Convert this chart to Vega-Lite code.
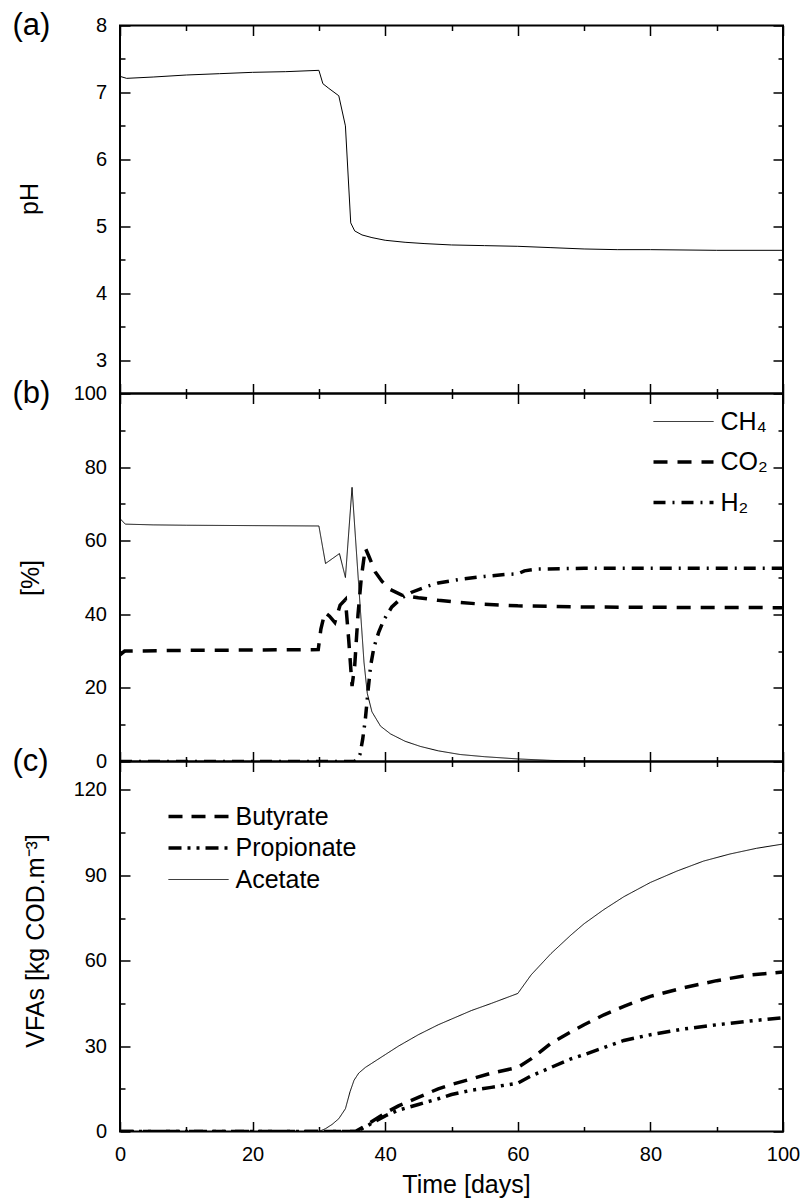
{
  "$schema": "https://vega.github.io/schema/vega-lite/v6.json",
  "autosize": {"type": "pad"},
  "padding": {"left": 11, "top": 8.5, "right": 0, "bottom": 0},
  "spacing": 0,
  "bounds": "flush",
  "resolve": {"scale": {"strokeDash": "independent"}, "legend": {"strokeDash": "independent"}},
  "config": {
    "font": "Liberation Sans",
    "view": {"stroke": "black", "strokeWidth": 2},
    "axis": {
      "domain": false, "grid": false, "tickColor": "black", "tickWidth": 1.5,
      "labelColor": "black", "labelFontSize": 20, "labelFont": "Liberation Sans",
      "titleFont": "Liberation Sans", "titleFontSize": 25, "titleFontWeight": "normal",
      "titleColor": "black", "labelFlush": false, "labelOverlap": false
    },
    "legend": {"labelFont": "Liberation Sans", "labelFontSize": 25, "labelColor": "black"},
    "title": {
      "anchor": "start", "frame": "group", "fontSize": 31, "fontWeight": "normal",
      "font": "Liberation Sans", "baseline": "middle", "dx": -107.5, "color": "black", "orient": "top"
    }
  },
  "datasets": {
    "ph": [
      {"t":0,"v":7.24},{"t":1,"v":7.21},{"t":5,"v":7.23},{"t":10,"v":7.26},{"t":15,"v":7.28},
      {"t":20,"v":7.3},{"t":25,"v":7.31},{"t":30,"v":7.33},{"t":30.6,"v":7.13},{"t":31.5,"v":7.06},
      {"t":33,"v":6.95},{"t":34,"v":6.5},{"t":34.8,"v":5.05},{"t":35.4,"v":4.93},{"t":36.5,"v":4.87},
      {"t":38,"v":4.83},{"t":40,"v":4.79},{"t":43,"v":4.76},{"t":46,"v":4.74},{"t":50,"v":4.72},
      {"t":55,"v":4.71},{"t":60,"v":4.7},{"t":65,"v":4.68},{"t":70,"v":4.66},{"t":75,"v":4.65},
      {"t":80,"v":4.65},{"t":90,"v":4.64},{"t":100,"v":4.64}
    ],
    "gas": [
      {"s":"CH₄","t":0,"v":66},{"s":"CH₄","t":0.8,"v":64.5},{"s":"CH₄","t":5,"v":64.3},{"s":"CH₄","t":10,"v":64.2},
      {"s":"CH₄","t":20,"v":64.1},{"s":"CH₄","t":30,"v":64},{"s":"CH₄","t":31,"v":53.8},{"s":"CH₄","t":33.1,"v":56.5},
      {"s":"CH₄","t":34,"v":50},{"s":"CH₄","t":35,"v":74.5},{"s":"CH₄","t":36,"v":48},{"s":"CH₄","t":36.8,"v":27},
      {"s":"CH₄","t":37.3,"v":18.5},{"s":"CH₄","t":38,"v":13.5},{"s":"CH₄","t":39.3,"v":9.6},{"s":"CH₄","t":40.8,"v":7.5},
      {"s":"CH₄","t":43,"v":5.5},{"s":"CH₄","t":45.3,"v":4.1},{"s":"CH₄","t":48,"v":2.9},{"s":"CH₄","t":51.3,"v":1.9},
      {"s":"CH₄","t":55,"v":1.3},{"s":"CH₄","t":60,"v":0.7},{"s":"CH₄","t":65,"v":0.3},{"s":"CH₄","t":70,"v":0.1},
      {"s":"CH₄","t":80,"v":0},{"s":"CH₄","t":100,"v":0},
      {"s":"CO₂","t":0,"v":29},{"s":"CO₂","t":0.7,"v":30},{"s":"CO₂","t":10,"v":30.2},{"s":"CO₂","t":20,"v":30.3},
      {"s":"CO₂","t":29.9,"v":30.4},{"s":"CO₂","t":30.3,"v":36},{"s":"CO₂","t":30.9,"v":40.5},{"s":"CO₂","t":31.6,"v":39.5},
      {"s":"CO₂","t":32.4,"v":37.8},{"s":"CO₂","t":33.2,"v":42.5},{"s":"CO₂","t":34,"v":44},{"s":"CO₂","t":34.5,"v":33},
      {"s":"CO₂","t":35,"v":20.5},{"s":"CO₂","t":35.4,"v":26},{"s":"CO₂","t":35.9,"v":40},{"s":"CO₂","t":36.4,"v":50},
      {"s":"CO₂","t":37,"v":58},{"s":"CO₂","t":37.6,"v":55.5},{"s":"CO₂","t":38.5,"v":51.5},{"s":"CO₂","t":39.5,"v":49},
      {"s":"CO₂","t":40.8,"v":46.7},{"s":"CO₂","t":42.5,"v":45.2},{"s":"CO₂","t":45,"v":44.5},{"s":"CO₂","t":48,"v":43.8},
      {"s":"CO₂","t":51.3,"v":43.2},{"s":"CO₂","t":55,"v":42.7},{"s":"CO₂","t":60,"v":42.3},{"s":"CO₂","t":70,"v":42},
      {"s":"CO₂","t":80,"v":41.9},{"s":"CO₂","t":100,"v":41.8},
      {"s":"H₂","t":0,"v":0},{"s":"H₂","t":35.3,"v":0},{"s":"H₂","t":35.8,"v":0.5},{"s":"H₂","t":36.2,"v":2},
      {"s":"H₂","t":36.6,"v":6},{"s":"H₂","t":37,"v":11.4},{"s":"H₂","t":37.4,"v":19},{"s":"H₂","t":37.8,"v":26},
      {"s":"H₂","t":38.3,"v":31},{"s":"H₂","t":39,"v":35},{"s":"H₂","t":39.8,"v":38.5},{"s":"H₂","t":41,"v":42},
      {"s":"H₂","t":42.5,"v":44.5},{"s":"H₂","t":44,"v":46},{"s":"H₂","t":46.3,"v":47.6},{"s":"H₂","t":48,"v":48.5},
      {"s":"H₂","t":51.3,"v":49.5},{"s":"H₂","t":55,"v":50.3},{"s":"H₂","t":58,"v":50.8},{"s":"H₂","t":60,"v":51},
      {"s":"H₂","t":61,"v":51.8},{"s":"H₂","t":63,"v":52.3},{"s":"H₂","t":70,"v":52.5},{"s":"H₂","t":80,"v":52.5},
      {"s":"H₂","t":100,"v":52.5}
    ],
    "vfa": [
      {"s":"Acetate","t":0,"v":0},{"s":"Acetate","t":30,"v":0},{"s":"Acetate","t":31,"v":1},{"s":"Acetate","t":32,"v":2.5},
      {"s":"Acetate","t":33,"v":4.5},{"s":"Acetate","t":34,"v":8},{"s":"Acetate","t":34.7,"v":14},{"s":"Acetate","t":35.3,"v":18},
      {"s":"Acetate","t":36,"v":20.5},{"s":"Acetate","t":37,"v":22.5},{"s":"Acetate","t":38,"v":24},{"s":"Acetate","t":40,"v":27},
      {"s":"Acetate","t":42,"v":30},{"s":"Acetate","t":45,"v":34},{"s":"Acetate","t":48,"v":37.5},{"s":"Acetate","t":50,"v":39.5},
      {"s":"Acetate","t":53,"v":42.5},{"s":"Acetate","t":56,"v":45},{"s":"Acetate","t":60,"v":48.5},{"s":"Acetate","t":62,"v":55},
      {"s":"Acetate","t":65,"v":62.5},{"s":"Acetate","t":68,"v":69},{"s":"Acetate","t":70,"v":73},{"s":"Acetate","t":73,"v":78},
      {"s":"Acetate","t":76,"v":82.5},{"s":"Acetate","t":80,"v":87.5},{"s":"Acetate","t":84,"v":91.5},{"s":"Acetate","t":88,"v":95},
      {"s":"Acetate","t":92,"v":97.5},{"s":"Acetate","t":96,"v":99.5},{"s":"Acetate","t":100,"v":101},
      {"s":"Butyrate","t":0,"v":0},{"s":"Butyrate","t":35.5,"v":0},{"s":"Butyrate","t":37,"v":2},{"s":"Butyrate","t":38,"v":3.5},
      {"s":"Butyrate","t":40,"v":6.5},{"s":"Butyrate","t":42,"v":9},{"s":"Butyrate","t":45,"v":12},{"s":"Butyrate","t":48,"v":15},
      {"s":"Butyrate","t":50,"v":16.5},{"s":"Butyrate","t":53,"v":18.5},{"s":"Butyrate","t":56,"v":20.5},{"s":"Butyrate","t":60,"v":22.5},
      {"s":"Butyrate","t":62,"v":25.5},{"s":"Butyrate","t":65,"v":31},{"s":"Butyrate","t":68,"v":35},{"s":"Butyrate","t":70,"v":37.5},
      {"s":"Butyrate","t":73,"v":41},{"s":"Butyrate","t":76,"v":44},{"s":"Butyrate","t":80,"v":47.5},{"s":"Butyrate","t":85,"v":50.5},
      {"s":"Butyrate","t":90,"v":53},{"s":"Butyrate","t":95,"v":55},{"s":"Butyrate","t":100,"v":56},
      {"s":"Propionate","t":0,"v":0},{"s":"Propionate","t":35.5,"v":0},{"s":"Propionate","t":37,"v":1.5},{"s":"Propionate","t":38,"v":3},
      {"s":"Propionate","t":40,"v":5.5},{"s":"Propionate","t":42,"v":7.5},{"s":"Propionate","t":45,"v":9.5},{"s":"Propionate","t":48,"v":11.5},
      {"s":"Propionate","t":50,"v":13},{"s":"Propionate","t":53,"v":14.5},{"s":"Propionate","t":56,"v":15.5},{"s":"Propionate","t":60,"v":17},
      {"s":"Propionate","t":62,"v":19.5},{"s":"Propionate","t":65,"v":22.5},{"s":"Propionate","t":68,"v":25.5},{"s":"Propionate","t":70,"v":27},
      {"s":"Propionate","t":73,"v":29.5},{"s":"Propionate","t":76,"v":32},{"s":"Propionate","t":80,"v":34},{"s":"Propionate","t":85,"v":36},
      {"s":"Propionate","t":90,"v":37.5},{"s":"Propionate","t":95,"v":38.8},{"s":"Propionate","t":100,"v":40}
    ]
  },
  "vconcat": [
    {
      "width": 663, "height": 368,
      "title": {"text": "(a)", "offset": -26},
      "data": {"name": "ph"},
      "resolve": {"axis": {"x": "independent", "y": "independent"}},
      "layer": [
        {
          "mark": {"type": "line", "color": "black", "strokeWidth": 1, "clip": true},
          "encoding": {
            "x": {"field": "t", "type": "quantitative", "scale": {"domain": [0, 100], "nice": false, "zero": false},
              "axis": {"orient": "bottom", "values": [0,20,40,60,80,100], "tickSize": 10, "offset": -10, "labels": false, "title": null}},
            "y": {"field": "v", "type": "quantitative", "scale": {"domain": [2.5, 8], "nice": false, "zero": false},
              "axis": {"orient": "left", "values": [3,4,5,6,7,8], "format": "d", "tickSize": 10, "offset": -10, "labelPadding": 13.5,
                "title": "pH", "titleX": -93, "titleY": 173, "titleAngle": 270, "titleAlign": "center", "titleBaseline": "alphabetic"}}
          }
        },
        {
          "mark": {"type": "line", "opacity": 0},
          "encoding": {
            "x": {"field": "t", "type": "quantitative", "scale": {"domain": [0, 100], "nice": false, "zero": false},
              "axis": {"orient": "bottom", "values": [10,30,50,70,90], "tickSize": 5, "offset": -5, "labels": false, "title": null}},
            "y": {"field": "v", "type": "quantitative", "scale": {"domain": [2.5, 8], "nice": false, "zero": false},
              "axis": {"orient": "left", "values": [3.5,4.5,5.5,6.5,7.5], "tickSize": 5, "offset": -5, "labels": false, "title": null}}
          }
        },
        {
          "mark": {"type": "line", "opacity": 0},
          "encoding": {
            "x": {"field": "t", "type": "quantitative", "scale": {"domain": [0, 100], "nice": false, "zero": false},
              "axis": {"orient": "top", "values": [0,20,40,60,80,100], "tickSize": 10, "offset": -10, "labels": false, "title": null}},
            "y": {"field": "v", "type": "quantitative", "scale": {"domain": [2.5, 8], "nice": false, "zero": false},
              "axis": {"orient": "right", "values": [3,4,5,6,7,8], "tickSize": 10, "offset": -10, "labels": false, "title": null}}
          }
        },
        {
          "mark": {"type": "line", "opacity": 0},
          "encoding": {
            "x": {"field": "t", "type": "quantitative", "scale": {"domain": [0, 100], "nice": false, "zero": false},
              "axis": {"orient": "top", "values": [10,30,50,70,90], "tickSize": 5, "offset": -5, "labels": false, "title": null}},
            "y": {"field": "v", "type": "quantitative", "scale": {"domain": [2.5, 8], "nice": false, "zero": false},
              "axis": {"orient": "right", "values": [3.5,4.5,5.5,6.5,7.5], "tickSize": 5, "offset": -5, "labels": false, "title": null}}
          }
        }
      ]
    },
    {
      "width": 663, "height": 368,
      "title": {"text": "(b)", "offset": -26},
      "data": {"name": "gas"},
      "resolve": {"axis": {"x": "independent", "y": "independent"}},
      "layer": [
        {
          "mark": {"type": "line", "color": "black", "clip": true},
          "encoding": {
            "x": {"field": "t", "type": "quantitative", "scale": {"domain": [0, 100], "nice": false, "zero": false},
              "axis": {"orient": "bottom", "values": [0,20,40,60,80,100], "tickSize": 10, "offset": -10, "labels": false, "title": null}},
            "y": {"field": "v", "type": "quantitative", "scale": {"domain": [0, 100], "nice": false, "zero": false},
              "axis": {"orient": "left", "values": [0,20,40,60,80,100], "tickSize": 10, "offset": -10, "labelPadding": 13.5,
                "title": "[%]", "titleX": -92, "titleY": 184, "titleAngle": 270, "titleAlign": "center", "titleBaseline": "alphabetic"}},
            "strokeDash": {"field": "s", "type": "nominal",
              "scale": {"domain": ["CH₄", "CO₂", "H₂"], "range": [[1, 0], [14, 10], [12, 7, 2, 7]]},
              "legend": {"orient": "none", "legendX": 551, "legendY": 15.5, "title": null, "symbolType": "M-3,0H3",
                "symbolSize": 400, "symbolStrokeColor": "black", "symbolFillColor": "transparent",
                "symbolStrokeWidth": {"expr": "(datum.index === 0 ? 1 : 3.5)"},
                "labelFontSize": 25, "labelOffset": 24.5, "rowPadding": 14.5, "padding": 0}},
            "strokeWidth": {"condition": {"test": "datum.s === 'CH₄'", "value": 1}, "value": 3.5}
          }
        },
        {
          "mark": {"type": "line", "opacity": 0},
          "encoding": {
            "x": {"field": "t", "type": "quantitative", "scale": {"domain": [0, 100], "nice": false, "zero": false},
              "axis": {"orient": "bottom", "values": [10,30,50,70,90], "tickSize": 5, "offset": -5, "labels": false, "title": null}},
            "y": {"field": "v", "type": "quantitative", "scale": {"domain": [0, 100], "nice": false, "zero": false},
              "axis": {"orient": "left", "values": [10,30,50,70,90], "tickSize": 5, "offset": -5, "labels": false, "title": null}}
          }
        },
        {
          "mark": {"type": "line", "opacity": 0},
          "encoding": {
            "x": {"field": "t", "type": "quantitative", "scale": {"domain": [0, 100], "nice": false, "zero": false},
              "axis": {"orient": "top", "values": [0,20,40,60,80,100], "tickSize": 10, "offset": -10, "labels": false, "title": null}},
            "y": {"field": "v", "type": "quantitative", "scale": {"domain": [0, 100], "nice": false, "zero": false},
              "axis": {"orient": "right", "values": [0,20,40,60,80,100], "tickSize": 10, "offset": -10, "labels": false, "title": null}}
          }
        },
        {
          "mark": {"type": "line", "opacity": 0},
          "encoding": {
            "x": {"field": "t", "type": "quantitative", "scale": {"domain": [0, 100], "nice": false, "zero": false},
              "axis": {"orient": "top", "values": [10,30,50,70,90], "tickSize": 5, "offset": -5, "labels": false, "title": null}},
            "y": {"field": "v", "type": "quantitative", "scale": {"domain": [0, 100], "nice": false, "zero": false},
              "axis": {"orient": "right", "values": [10,30,50,70,90], "tickSize": 5, "offset": -5, "labels": false, "title": null}}
          }
        }
      ]
    },
    {
      "width": 663, "height": 370,
      "title": {"text": "(c)", "offset": -17},
      "data": {"name": "vfa"},
      "resolve": {"axis": {"x": "independent", "y": "independent"}},
      "layer": [
        {
          "mark": {"type": "line", "color": "black", "clip": true},
          "encoding": {
            "x": {"field": "t", "type": "quantitative", "scale": {"domain": [0, 100], "nice": false, "zero": false},
              "axis": {"orient": "bottom", "values": [0,20,40,60,80,100], "tickSize": 10, "offset": -10, "labelPadding": 13,
                "title": "Time [days]", "titleX": 346, "titleY": 71, "titleAlign": "center", "titleBaseline": "alphabetic"}},
            "y": {"field": "v", "type": "quantitative", "scale": {"domain": [0, 130], "nice": false, "zero": false},
              "axis": {"orient": "left", "values": [0,30,60,90,120], "tickSize": 10, "offset": -10, "labelPadding": 13.5,
                "title": "VFAs [kg COD.m⁻³]", "titleX": -86.5, "titleY": 179, "titleAngle": 270, "titleAlign": "center", "titleBaseline": "alphabetic"}},
            "strokeDash": {"field": "s", "type": "nominal",
              "scale": {"domain": ["Butyrate", "Propionate", "Acetate"], "range": [[14, 9], [13, 6, 3, 6, 3, 6], [1, 0]]},
              "legend": {"orient": "none", "legendX": 66, "legendY": 42.5, "title": null, "symbolType": "M-3,0H3",
                "symbolSize": 400, "symbolStrokeColor": "black", "symbolFillColor": "transparent",
                "symbolStrokeWidth": {"expr": "(datum.index === 2 ? 1 : 3.5)"},
                "labelFontSize": 25, "labelOffset": 24.5, "rowPadding": 5.5, "padding": 0}},
            "strokeWidth": {"condition": {"test": "datum.s === 'Acetate'", "value": 1}, "value": 3.5}
          }
        },
        {
          "mark": {"type": "line", "opacity": 0},
          "encoding": {
            "x": {"field": "t", "type": "quantitative", "scale": {"domain": [0, 100], "nice": false, "zero": false},
              "axis": {"orient": "bottom", "values": [10,30,50,70,90], "tickSize": 5, "offset": -5, "labels": false, "title": null}},
            "y": {"field": "v", "type": "quantitative", "scale": {"domain": [0, 130], "nice": false, "zero": false},
              "axis": {"orient": "left", "values": [15,45,75,105], "tickSize": 5, "offset": -5, "labels": false, "title": null}}
          }
        },
        {
          "mark": {"type": "line", "opacity": 0},
          "encoding": {
            "x": {"field": "t", "type": "quantitative", "scale": {"domain": [0, 100], "nice": false, "zero": false},
              "axis": {"orient": "top", "values": [0,20,40,60,80,100], "tickSize": 10, "offset": -10, "labels": false, "title": null}},
            "y": {"field": "v", "type": "quantitative", "scale": {"domain": [0, 130], "nice": false, "zero": false},
              "axis": {"orient": "right", "values": [0,30,60,90,120], "tickSize": 10, "offset": -10, "labels": false, "title": null}}
          }
        },
        {
          "mark": {"type": "line", "opacity": 0},
          "encoding": {
            "x": {"field": "t", "type": "quantitative", "scale": {"domain": [0, 100], "nice": false, "zero": false},
              "axis": {"orient": "top", "values": [10,30,50,70,90], "tickSize": 5, "offset": -5, "labels": false, "title": null}},
            "y": {"field": "v", "type": "quantitative", "scale": {"domain": [0, 130], "nice": false, "zero": false},
              "axis": {"orient": "right", "values": [15,45,75,105], "tickSize": 5, "offset": -5, "labels": false, "title": null}}
          }
        }
      ]
    }
  ]
}
